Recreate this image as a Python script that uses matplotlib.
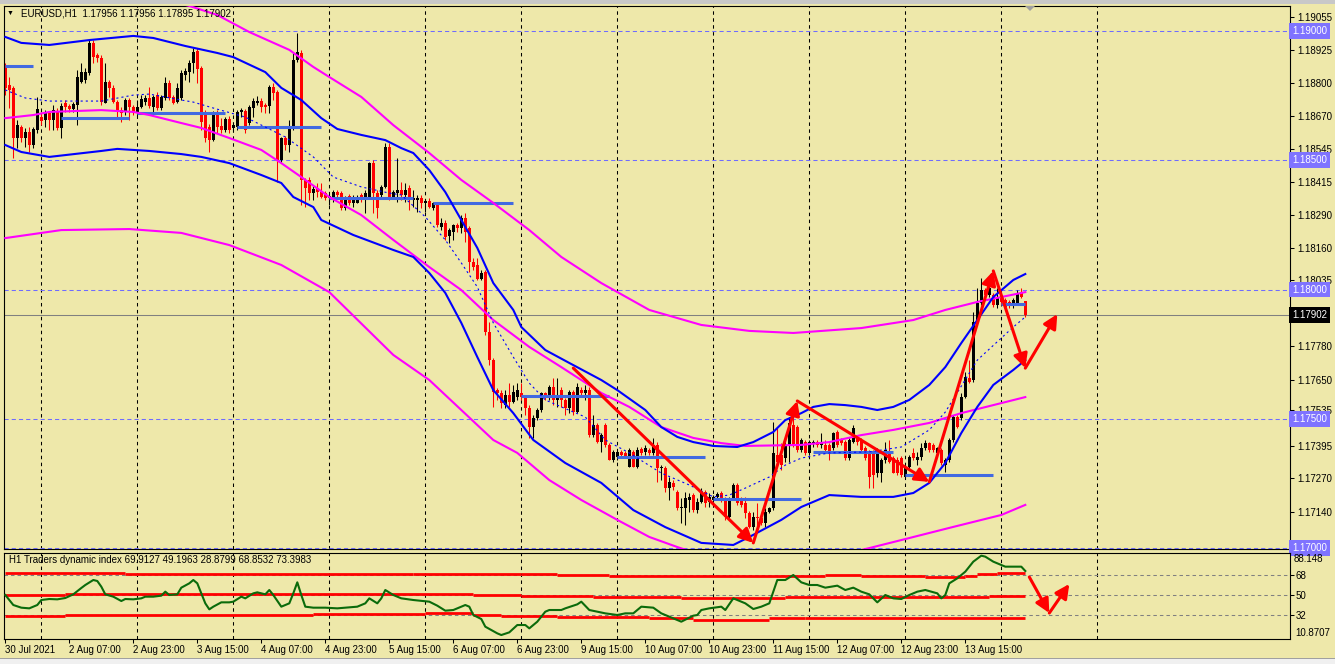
import numpy as np
import matplotlib.pyplot as plt
import matplotlib.transforms as mtransforms
from matplotlib.patches import FancyArrowPatch, Rectangle, Polygon

plt.rcParams['font.family'] = ['Liberation Sans', 'DejaVu Sans']
plt.rcParams['lines.scale_dashes'] = False

# ---- EURUSD H1 candles, 30 Jul 15:00 -> 13 Aug 16:00 (bar index 0..255) ----
opens = [1.18857, 1.18791, 1.18780, 1.18586, 1.18629, 1.18586, 1.18609, 1.18559, 1.18617, 1.18667,
         1.18656, 1.18683, 1.18656, 1.18691, 1.18625, 1.18722, 1.18710, 1.18698, 1.18714, 1.18803,
         1.18810, 1.18838, 1.18954, 1.18907, 1.18896, 1.18722, 1.18803, 1.18780, 1.18725, 1.18694,
         1.18687, 1.18733, 1.18706, 1.18683, 1.18706, 1.18725, 1.18741, 1.18706, 1.18752, 1.18702,
         1.18741, 1.18799, 1.18745, 1.18725, 1.18741, 1.18830, 1.18841, 1.18876, 1.18923, 1.18857,
         1.18687, 1.18629, 1.18578, 1.18683, 1.18633, 1.18617, 1.18660, 1.18625, 1.18629, 1.18687,
         1.18691, 1.18644, 1.18702, 1.18722, 1.18729, 1.18714, 1.18710, 1.18783, 1.18764, 1.18501,
         1.18586, 1.18559, 1.18629, 1.18888, 1.18915, 1.18424, 1.18424, 1.18373, 1.18393, 1.18377,
         1.18373, 1.18354, 1.18358, 1.18377, 1.18373, 1.18315, 1.18362, 1.18335, 1.18335, 1.18366,
         1.18358, 1.18358, 1.18489, 1.18373, 1.18366, 1.18397, 1.18551, 1.18358, 1.18373, 1.18385,
         1.18366, 1.18393, 1.18346, 1.18346, 1.18354, 1.18335, 1.18342, 1.18315, 1.18331, 1.18242,
         1.18257, 1.18207, 1.18223, 1.18250, 1.18238, 1.18277, 1.18238, 1.18106, 1.18095, 1.18041,
         1.18068, 1.17836, 1.17727, 1.17611, 1.17600, 1.17553, 1.17592, 1.17565, 1.17584, 1.17600,
         1.17580, 1.17542, 1.17468, 1.17503, 1.17534, 1.17600, 1.17584, 1.17623, 1.17573, 1.17611,
         1.17573, 1.17542, 1.17604, 1.17526, 1.17611, 1.17600, 1.17611, 1.17437, 1.17476, 1.17410,
         1.17476, 1.17399, 1.17341, 1.17352, 1.17372, 1.17368, 1.17314, 1.17372, 1.17314, 1.17383,
         1.17372, 1.17379, 1.17368, 1.17399, 1.17310, 1.17310, 1.17232, 1.17252, 1.17217, 1.17155,
         1.17155, 1.17186, 1.17205, 1.17147, 1.17178, 1.17217, 1.17178, 1.17186, 1.17198, 1.17213,
         1.17190, 1.17120, 1.17190, 1.17244, 1.17182, 1.17174, 1.17136, 1.17081, 1.17120, 1.17116,
         1.17097, 1.17139, 1.17155, 1.17360, 1.17360, 1.17348, 1.17399, 1.17476, 1.17468, 1.17379,
         1.17410, 1.17368, 1.17406, 1.17410, 1.17399, 1.17399, 1.17399, 1.17387, 1.17449, 1.17418,
         1.17410, 1.17348, 1.17410, 1.17430, 1.17418, 1.17387, 1.17372, 1.17368, 1.17290, 1.17290,
         1.17341, 1.17372, 1.17348, 1.17341, 1.17348, 1.17275, 1.17314, 1.17368, 1.17341, 1.17352,
         1.17387, 1.17406, 1.17399, 1.17368, 1.17379, 1.17321, 1.17341, 1.17418, 1.17507, 1.17503,
         1.17584, 1.17658, 1.17650, 1.17874, 1.17948, 1.17998, 1.17979, 1.17979, 1.17940, 1.17971,
         1.17960, 1.17952, 1.17948, 1.17948, 1.17990, 1.17956]
highs = [1.18876, 1.18822, 1.18787, 1.18656, 1.18636, 1.18625, 1.18629, 1.18629, 1.18745, 1.18687,
         1.18694, 1.18691, 1.18714, 1.18702, 1.18722, 1.18733, 1.18718, 1.18725, 1.18849, 1.18876,
         1.18857, 1.18965, 1.18965, 1.18915, 1.18907, 1.18876, 1.18810, 1.18791, 1.18733, 1.18706,
         1.18741, 1.18741, 1.18714, 1.18733, 1.18752, 1.18752, 1.18783, 1.18752, 1.18764, 1.18752,
         1.18822, 1.18810, 1.18752, 1.18799, 1.18849, 1.18857, 1.18888, 1.18934, 1.18934, 1.18865,
         1.18694, 1.18640, 1.18691, 1.18694, 1.18663, 1.18667, 1.18671, 1.18648, 1.18694, 1.18702,
         1.18698, 1.18714, 1.18741, 1.18749, 1.18741, 1.18722, 1.18791, 1.18799, 1.18772, 1.18590,
         1.18594, 1.18656, 1.18915, 1.18992, 1.18927, 1.18431, 1.18435, 1.18400, 1.18412, 1.18412,
         1.18381, 1.18370, 1.18385, 1.18385, 1.18381, 1.18362, 1.18370, 1.18366, 1.18366, 1.18373,
         1.18385, 1.18493, 1.18501, 1.18385, 1.18404, 1.18567, 1.18567, 1.18385, 1.18509, 1.18416,
         1.18412, 1.18404, 1.18385, 1.18366, 1.18366, 1.18350, 1.18354, 1.18339, 1.18339, 1.18277,
         1.18269, 1.18238, 1.18253, 1.18257, 1.18288, 1.18296, 1.18246, 1.18122, 1.18122, 1.18076,
         1.18076, 1.17874, 1.17735, 1.17619, 1.17611, 1.17611, 1.17638, 1.17631, 1.17638, 1.17638,
         1.17592, 1.17553, 1.17515, 1.17542, 1.17604, 1.17604, 1.17631, 1.17658, 1.17658, 1.17623,
         1.17580, 1.17611, 1.17611, 1.17638, 1.17623, 1.17631, 1.17623, 1.17515, 1.17484, 1.17445,
         1.17484, 1.17406, 1.17379, 1.17379, 1.17379, 1.17375, 1.17387, 1.17379, 1.17391, 1.17391,
         1.17399, 1.17387, 1.17426, 1.17410, 1.17321, 1.17317, 1.17275, 1.17263, 1.17225, 1.17194,
         1.17217, 1.17213, 1.17213, 1.17194, 1.17232, 1.17225, 1.17213, 1.17205, 1.17217, 1.17221,
         1.17198, 1.17198, 1.17252, 1.17252, 1.17198, 1.17198, 1.17143, 1.17139, 1.17174, 1.17124,
         1.17155, 1.17159, 1.17488, 1.17464, 1.17406, 1.17410, 1.17507, 1.17534, 1.17476, 1.17426,
         1.17418, 1.17418, 1.17418, 1.17418, 1.17445, 1.17418, 1.17406, 1.17449, 1.17457, 1.17426,
         1.17418, 1.17426, 1.17476, 1.17437, 1.17426, 1.17395, 1.17379, 1.17379, 1.17387, 1.17348,
         1.17410, 1.17418, 1.17356, 1.17352, 1.17356, 1.17321, 1.17360, 1.17387, 1.17372, 1.17406,
         1.17418, 1.17410, 1.17406, 1.17391, 1.17387, 1.17348, 1.17426, 1.17515, 1.17515, 1.17600,
         1.17681, 1.17727, 1.17913, 1.18006, 1.18045, 1.18006, 1.18045, 1.17987, 1.18006, 1.17990,
         1.17967, 1.17960, 1.17967, 1.17998, 1.18006, 1.17956]
lows = [1.18752, 1.18702, 1.18509, 1.18547, 1.18571, 1.18551, 1.18532, 1.18547, 1.18605, 1.18636,
        1.18629, 1.18617, 1.18617, 1.18617, 1.18586, 1.18687, 1.18687, 1.18687, 1.18636, 1.18799,
        1.18799, 1.18830, 1.18876, 1.18880, 1.18714, 1.18722, 1.18745, 1.18722, 1.18663, 1.18648,
        1.18675, 1.18656, 1.18675, 1.18671, 1.18702, 1.18714, 1.18702, 1.18675, 1.18694, 1.18694,
        1.18733, 1.18733, 1.18718, 1.18722, 1.18733, 1.18810, 1.18803, 1.18838, 1.18799, 1.18617,
        1.18571, 1.18532, 1.18575, 1.18605, 1.18605, 1.18609, 1.18605, 1.18613, 1.18617, 1.18667,
        1.18605, 1.18636, 1.18667, 1.18714, 1.18687, 1.18683, 1.18683, 1.18733, 1.18416, 1.18489,
        1.18540, 1.18532, 1.18617, 1.18880, 1.18327, 1.18319, 1.18346, 1.18346, 1.18358, 1.18354,
        1.18346, 1.18327, 1.18339, 1.18358, 1.18308, 1.18308, 1.18327, 1.18319, 1.18335, 1.18339,
        1.18296, 1.18354, 1.18296, 1.18277, 1.18358, 1.18393, 1.18346, 1.18358, 1.18339, 1.18346,
        1.18339, 1.18308, 1.18319, 1.18300, 1.18315, 1.18300, 1.18315, 1.18308, 1.18242, 1.18230,
        1.18192, 1.18180, 1.18192, 1.18223, 1.18219, 1.18184, 1.18068, 1.18076, 1.18037, 1.18037,
        1.17824, 1.17708, 1.17546, 1.17573, 1.17542, 1.17542, 1.17546, 1.17561, 1.17573, 1.17573,
        1.17515, 1.17426, 1.17426, 1.17495, 1.17526, 1.17573, 1.17573, 1.17553, 1.17546, 1.17546,
        1.17515, 1.17522, 1.17515, 1.17522, 1.17584, 1.17573, 1.17430, 1.17430, 1.17406, 1.17372,
        1.17391, 1.17341, 1.17333, 1.17341, 1.17348, 1.17348, 1.17314, 1.17314, 1.17310, 1.17360,
        1.17360, 1.17360, 1.17360, 1.17256, 1.17263, 1.17217, 1.17186, 1.17225, 1.17147, 1.17097,
        1.17089, 1.17139, 1.17139, 1.17136, 1.17174, 1.17159, 1.17159, 1.17174, 1.17194, 1.17178,
        1.17109, 1.17116, 1.17186, 1.17167, 1.17159, 1.17116, 1.17078, 1.17070, 1.17078, 1.17089,
        1.17081, 1.17136, 1.17147, 1.17329, 1.17302, 1.17333, 1.17333, 1.17391, 1.17372, 1.17372,
        1.17360, 1.17360, 1.17391, 1.17391, 1.17387, 1.17368, 1.17341, 1.17379, 1.17391, 1.17399,
        1.17341, 1.17341, 1.17406, 1.17399, 1.17372, 1.17341, 1.17232, 1.17232, 1.17275, 1.17256,
        1.17329, 1.17329, 1.17290, 1.17283, 1.17275, 1.17271, 1.17302, 1.17341, 1.17321, 1.17341,
        1.17379, 1.17372, 1.17372, 1.17352, 1.17321, 1.17294, 1.17333, 1.17410, 1.17464, 1.17495,
        1.17580, 1.17638, 1.17642, 1.17871, 1.17940, 1.17971, 1.17971, 1.17932, 1.17929, 1.17940,
        1.17929, 1.17929, 1.17929, 1.17940, 1.17967, 1.17895]
closes = [1.18780, 1.18772, 1.18586, 1.18636, 1.18586, 1.18609, 1.18559, 1.18621, 1.18698, 1.18652,
          1.18683, 1.18656, 1.18694, 1.18625, 1.18710, 1.18706, 1.18698, 1.18718, 1.18822, 1.18841,
          1.18841, 1.18954, 1.18899, 1.18896, 1.18725, 1.18803, 1.18780, 1.18725, 1.18687, 1.18683,
          1.18733, 1.18706, 1.18683, 1.18706, 1.18737, 1.18741, 1.18710, 1.18745, 1.18702, 1.18745,
          1.18799, 1.18741, 1.18722, 1.18780, 1.18838, 1.18845, 1.18876, 1.18919, 1.18853, 1.18648,
          1.18586, 1.18578, 1.18683, 1.18629, 1.18617, 1.18660, 1.18617, 1.18636, 1.18687, 1.18694,
          1.18617, 1.18706, 1.18729, 1.18729, 1.18706, 1.18706, 1.18783, 1.18760, 1.18501, 1.18586,
          1.18559, 1.18629, 1.18888, 1.18919, 1.18424, 1.18393, 1.18373, 1.18389, 1.18377, 1.18358,
          1.18354, 1.18362, 1.18377, 1.18366, 1.18315, 1.18354, 1.18335, 1.18358, 1.18358, 1.18346,
          1.18373, 1.18489, 1.18373, 1.18315, 1.18397, 1.18551, 1.18358, 1.18377, 1.18385, 1.18366,
          1.18385, 1.18346, 1.18354, 1.18354, 1.18335, 1.18342, 1.18319, 1.18335, 1.18250, 1.18257,
          1.18203, 1.18230, 1.18250, 1.18238, 1.18277, 1.18223, 1.18106, 1.18087, 1.18041, 1.18064,
          1.17836, 1.17727, 1.17604, 1.17600, 1.17561, 1.17592, 1.17565, 1.17604, 1.17611, 1.17584,
          1.17542, 1.17468, 1.17503, 1.17534, 1.17600, 1.17584, 1.17623, 1.17573, 1.17584, 1.17573,
          1.17542, 1.17604, 1.17526, 1.17623, 1.17600, 1.17611, 1.17437, 1.17476, 1.17410, 1.17437,
          1.17399, 1.17341, 1.17372, 1.17372, 1.17360, 1.17352, 1.17379, 1.17314, 1.17379, 1.17368,
          1.17387, 1.17368, 1.17399, 1.17310, 1.17314, 1.17232, 1.17256, 1.17236, 1.17155, 1.17159,
          1.17194, 1.17198, 1.17147, 1.17178, 1.17217, 1.17174, 1.17198, 1.17198, 1.17209, 1.17186,
          1.17120, 1.17190, 1.17244, 1.17174, 1.17167, 1.17136, 1.17081, 1.17120, 1.17116, 1.17097,
          1.17139, 1.17155, 1.17368, 1.17333, 1.17321, 1.17399, 1.17484, 1.17399, 1.17379, 1.17418,
          1.17368, 1.17410, 1.17410, 1.17399, 1.17410, 1.17379, 1.17372, 1.17445, 1.17399, 1.17406,
          1.17348, 1.17418, 1.17464, 1.17410, 1.17379, 1.17348, 1.17275, 1.17283, 1.17368, 1.17341,
          1.17379, 1.17333, 1.17290, 1.17290, 1.17283, 1.17314, 1.17352, 1.17348, 1.17352, 1.17387,
          1.17406, 1.17379, 1.17379, 1.17387, 1.17329, 1.17341, 1.17418, 1.17507, 1.17468, 1.17584,
          1.17662, 1.17642, 1.17874, 1.17948, 1.17998, 1.17979, 1.18006, 1.17940, 1.17971, 1.17952,
          1.17932, 1.17940, 1.17960, 1.17987, 1.17971, 1.17902]

# ---- band indicators, read at bar index ----
blue_up_i = [0, 4, 11, 21, 32, 37, 45, 53, 57, 65, 69, 74, 79, 83, 89, 95, 99, 102, 106, 110,
             114, 118, 122, 127, 129, 135, 141, 149, 153, 160, 164, 168, 172, 177, 183, 187, 192, 195, 199, 202,
             206, 210, 214, 218, 222, 226, 231, 235, 239, 243, 247, 252, 255]
blue_up = [1.18977, 1.18954, 1.18946, 1.18965, 1.18981, 1.18973, 1.18942, 1.18915, 1.18899, 1.18841,
           1.18780, 1.18733, 1.18663, 1.18621, 1.18598, 1.18578, 1.18547, 1.18528, 1.18462, 1.18377,
           1.18269, 1.18161, 1.18025, 1.17921, 1.17855, 1.17766, 1.17716, 1.17650, 1.17611, 1.17534,
           1.17468, 1.17430, 1.17410, 1.17395, 1.17391, 1.17410, 1.17449, 1.17495, 1.17522, 1.17546,
           1.17557, 1.17553, 1.17546, 1.17534, 1.17546, 1.17573, 1.17631, 1.17700, 1.17793, 1.17882,
           1.17971, 1.18037, 1.18060]
blue_lo_i = [0, 4, 11, 24, 28, 36, 44, 49, 56, 64, 69, 72, 77, 79, 87, 97, 102, 106, 110, 114,
             118, 122, 127, 132, 140, 149, 157, 165, 174, 182, 186, 194, 199, 206, 214, 222, 227, 231, 235, 239,
             243, 247, 252, 255]
blue_lo = [1.18559, 1.18532, 1.18513, 1.18536, 1.18544, 1.18536, 1.18524, 1.18513, 1.18489, 1.18443,
           1.18412, 1.18358, 1.18319, 1.18269, 1.18211, 1.18153, 1.18126, 1.18064, 1.17987, 1.17871,
           1.17739, 1.17611, 1.17522, 1.17418, 1.17329, 1.17252, 1.17147, 1.17081, 1.17020, 1.17012,
           1.17043, 1.17109, 1.17159, 1.17205, 1.17198, 1.17198, 1.17213, 1.17252, 1.17329, 1.17445,
           1.17546, 1.17631, 1.17689, 1.17727]
blue_mid_i = [0, 5, 11, 24, 32, 36, 44, 47, 52, 60, 70, 77, 82, 89, 96, 99, 105, 110, 114, 118,
              122, 127, 131, 135, 139, 145, 150, 156, 164, 171, 177, 181, 185, 191, 195, 199, 206, 216, 224, 231,
              235, 243, 252, 255]
blue_mid = [1.18772, 1.18741, 1.18729, 1.18729, 1.18752, 1.18756, 1.18733, 1.18725, 1.18702, 1.18667,
            1.18590, 1.18513, 1.18435, 1.18397, 1.18373, 1.18366, 1.18281, 1.18192, 1.18103, 1.18010,
            1.17871, 1.17739, 1.17638, 1.17573, 1.17546, 1.17507, 1.17418, 1.17368, 1.17290, 1.17244,
            1.17198, 1.17205, 1.17232, 1.17275, 1.17321, 1.17348, 1.17368, 1.17372, 1.17391, 1.17457,
            1.17526, 1.17727, 1.17855, 1.17894]
mag_up_i = [40, 46, 53, 61, 71, 77, 81, 89, 97, 106, 114, 122, 131, 139, 149, 161, 174, 186, 197, 214,
            227, 235, 243, 255]
mag_up = [1.19120, 1.19097, 1.19062, 1.18996, 1.18927, 1.18861, 1.18822, 1.18745, 1.18636, 1.18528,
          1.18424, 1.18335, 1.18230, 1.18126, 1.18025, 1.17921, 1.17863, 1.17840, 1.17832, 1.17851,
          1.17882, 1.17921, 1.17952, 1.17990]
mag_mid_i = [0, 7, 11, 24, 32, 36, 44, 49, 56, 64, 69, 74, 81, 89, 97, 106, 114, 122, 131, 139,
             149, 156, 164, 172, 179, 185, 199, 206, 214, 222, 231, 239, 247, 255]
mag_mid = [1.18663, 1.18675, 1.18687, 1.18694, 1.18687, 1.18675, 1.18644, 1.18625, 1.18586, 1.18540,
           1.18489, 1.18435, 1.18358, 1.18288, 1.18192, 1.18087, 1.17998, 1.17882, 1.17778, 1.17700,
           1.17600, 1.17546, 1.17468, 1.17426, 1.17406, 1.17395, 1.17399, 1.17410, 1.17437, 1.17457,
           1.17484, 1.17522, 1.17553, 1.17584]
mag_lo_i = [0, 14, 31, 44, 56, 69, 81, 97, 106, 114, 122, 128, 136, 144, 153, 161, 168, 174, 194, 211,
            216, 224, 236, 249, 255]
mag_lo = [1.18199, 1.18230, 1.18234, 1.18219, 1.18172, 1.18095, 1.17990, 1.17747, 1.17650, 1.17534,
          1.17418, 1.17368, 1.17263, 1.17186, 1.17109, 1.17043, 1.17004, 1.16973, 1.16954, 1.16981,
          1.17000, 1.17031, 1.17078, 1.17128, 1.17167]

# daily levels (start bar, end bar, price)
day_lvl_start = [0, 14, 33, 58, 81, 107, 129, 153, 177, 202, 225, 249]
day_lvl_end = [7, 31, 55, 79, 102, 127, 151, 175, 199, 222, 247, 255]
day_lvl = [1.18865, 1.18663, 1.18683, 1.18629, 1.18354, 1.18335, 1.17588, 1.17352, 1.17190, 1.17372,
           1.17283, 1.17944]

round_levels = [1.19000, 1.18500, 1.18000, 1.17500, 1.17000]
price_ticks = [1.19055, 1.18925, 1.18800, 1.18670, 1.18545, 1.18415, 1.18290, 1.18160, 1.18035,
               1.17780, 1.17650, 1.17535, 1.17395, 1.17270, 1.17140]
last_price = 1.17902

# hand drawn arrows (bar index, price)
arrow_bars = [142, 187, 198, 231, 247, 255, 263]
arrow_prices = [1.17696, 1.17020, 1.17569, 1.17256, 1.18072, 1.17696, 1.17905]

# ---- Traders Dynamic Index ----
tdi_i = [0, 2, 4, 6, 8, 9, 11, 13, 15, 17, 19, 20, 22, 23, 24, 25, 27, 29, 30, 32,
         34, 35, 37, 39, 40, 41, 43, 44, 46, 47, 48, 49, 50, 51, 52, 54, 56, 57, 59, 60,
         62, 63, 65, 66, 67, 69, 71, 72, 73, 74, 75, 77, 80, 83, 88, 90, 91, 93, 94, 95,
         97, 99, 102, 106, 108, 110, 112, 115, 116, 117, 119, 120, 123, 124, 126, 128, 130, 131, 133, 135,
         136, 139, 140, 143, 144, 146, 148, 150, 153, 155, 157, 159, 162, 164, 166, 169, 172, 173, 174, 176,
         179, 180, 182, 185, 187, 189, 191, 192, 193, 195, 197, 199, 201, 203, 205, 208, 210, 212, 214, 216,
         218, 220, 222, 224, 226, 228, 230, 233, 234, 235, 236, 238, 240, 242, 244, 245, 247, 250, 252, 254,
         255]
tdi_line = [50.0, 41.0, 38.6, 38.0, 41.0, 45.5, 46.4, 46.1, 47.3, 50.6, 56.3, 59.0, 63.5, 62.6, 57.5, 50.6,
            48.5, 44.6, 46.4, 46.1, 47.0, 48.5, 48.5, 49.4, 53.0, 50.0, 50.6, 56.6, 60.5, 63.5, 60.5, 51.5,
            42.5, 37.1, 39.5, 43.4, 43.4, 44.0, 48.5, 47.0, 51.5, 52.4, 50.6, 54.5, 50.0, 39.5, 42.5, 51.5,
            61.4, 50.0, 39.5, 38.6, 38.6, 38.0, 39.5, 42.5, 47.0, 42.5, 47.0, 54.5, 50.0, 47.0, 45.5, 44.0,
            40.4, 35.9, 36.5, 41.0, 39.5, 32.0, 28.4, 21.5, 15.5, 14.0, 16.4, 23.0, 23.0, 20.0, 26.0, 35.0,
            36.5, 36.5, 38.0, 41.6, 44.0, 36.5, 35.0, 33.5, 32.0, 33.5, 33.5, 39.5, 38.6, 33.5, 30.5, 26.0,
            31.4, 32.0, 36.5, 38.0, 39.5, 36.5, 47.0, 42.5, 37.4, 39.5, 42.5, 53.0, 63.5, 63.5, 68.0, 61.4,
            59.0, 59.0, 56.6, 58.4, 54.5, 56.6, 53.0, 50.6, 43.4, 50.0, 47.0, 46.4, 50.0, 53.0, 54.5, 51.5,
            47.0, 50.0, 60.5, 65.0, 71.0, 80.0, 85.4, 84.5, 80.0, 75.5, 75.5, 75.5, 71.6]
# volatility bands are flat steps: edges in bar index, one value per step
band_up_edges = [0, 30, 102, 129, 138, 151, 205, 214, 230, 240, 243, 248, 255]
band_up = [69.5, 68.9, 68.6, 68.9, 68.0, 67.4, 68.0, 67.4, 66.5, 67.4, 68.6, 69.9]
band_mid_edges = [0, 15, 117, 129, 147, 169, 195, 246, 255]
band_mid = [50.0, 50.6, 50.0, 49.4, 48.5, 47.6, 48.5, 49.2]
band_lo_edges = [0, 15, 77, 105, 117, 124, 138, 161, 172, 191, 200, 255]
band_lo = [31.4, 32.0, 32.9, 33.5, 32.0, 31.4, 30.5, 29.0, 27.8, 29.0, 28.9]
tdi_levels = [68, 50, 32]
tdi_arrow_bars = [256, 261, 266]
tdi_arrow_vals = [66.2, 33.8, 59.9]

day_starts = [9, 33, 57, 81, 105, 129, 153, 177, 201, 225, 249, 273]
time_idx = [0, 16, 32, 48, 64, 80, 96, 112, 128, 144, 160, 176, 192, 208, 224, 240]
time_labels = ['30 Jul 2021', '2 Aug 07:00', '2 Aug 23:00', '3 Aug 15:00', '4 Aug 07:00',
               '4 Aug 23:00', '5 Aug 15:00', '6 Aug 07:00', '6 Aug 23:00', '9 Aug 15:00',
               '10 Aug 07:00', '10 Aug 23:00', '11 Aug 15:00', '12 Aug 07:00', '12 Aug 23:00',
               '13 Aug 15:00']

BG = '#EEE8AA'
W, H = 1335, 664


def px_box(x0, y0, x1, y1):
    return [x0 / W, 1 - y1 / H, (x1 - x0) / W, (y1 - y0) / H]


fig = plt.figure(figsize=(13.35, 6.64), dpi=100)
fig.patch.set_facecolor(BG)
ax = fig.add_axes(px_box(4, 6, 1290, 549))
ax2 = fig.add_axes(px_box(4, 552.6, 1290, 638.5), sharex=ax)

# window frame bits (top bar, bottom tab strip)
fig.add_artist(Rectangle((0, 1 - 4 / H), 1, 4 / H, transform=fig.transFigure, fc='#c8c8c8', ec='none'))
fig.add_artist(Rectangle((0, 0), 1, 5 / H, transform=fig.transFigure, fc='#f0f0f0', ec='none'))
fig.add_artist(Rectangle((0, 5 / H), 1, 1 / H, transform=fig.transFigure, fc='#a0a0a0', ec='none'))
# chart shift marker
fig.add_artist(Polygon([(1025 / W, 1 - 6 / H), (1035 / W, 1 - 6 / H), (1030 / W, 1 - 11 / H)],
                       closed=True, transform=fig.transFigure, fc='#a0a0a0', ec='none'))

for a in (ax, ax2):
    a.set_facecolor(BG)
    for s in a.spines.values():
        s.set_linewidth(0.8)
        s.set_color('black')
    for d in day_starts:
        a.axvline(d, color='black', lw=0.75, linestyle=(0, (2.5, 2.5)), zorder=1)

ax.set_xlim(-0.325, 321.175)
ax.set_ylim(1.169964, 1.190967)
ax2.set_ylim(10.8707, 88.148)

# round number levels + last price
for lv in round_levels:
    ax.axhline(lv, color='#6f6cff', lw=0.75, linestyle=(0, (3, 2.2)), zorder=1)
ax.axhline(last_price, color='#808080', lw=0.75, zorder=1)

# candles
x = np.arange(len(closes))
o = np.array(opens); h = np.array(highs); l = np.array(lows); c = np.array(closes)
bull = c > o
body_lo = np.minimum(o, c)
body_h = np.maximum(np.abs(c - o), 0.00003)
for m, col in ((bull, 'black'), (~bull, '#ff0000')):
    ax.vlines(x[m], l[m], h[m], color=col, lw=0.75, zorder=2)
    ax.bar(x[m], body_h[m], bottom=body_lo[m], width=0.72, color=col, linewidth=0, zorder=2)

# indicators on top of price
for s, e, v in zip(day_lvl_start, day_lvl_end, day_lvl):
    ax.plot([s, e], [v, v], color='#4169e1', lw=2.2, solid_capstyle='butt', zorder=3)
ax.plot(mag_up_i, mag_up, color='#ff00ff', lw=1.5, zorder=3)
ax.plot(mag_mid_i, mag_mid, color='#ff00ff', lw=1.5, zorder=3)
ax.plot(mag_lo_i, mag_lo, color='#ff00ff', lw=1.5, zorder=3)
ax.plot(blue_up_i, blue_up, color='#0000ff', lw=1.5, zorder=3)
ax.plot(blue_lo_i, blue_lo, color='#0000ff', lw=1.5, zorder=3)
ax.plot(blue_mid_i, blue_mid, color='#0000ff', lw=0.8, linestyle=(0, (1.5, 2.2)), zorder=3)

for k in range(len(arrow_bars) - 1):
    ar = FancyArrowPatch((arrow_bars[k], arrow_prices[k]), (arrow_bars[k + 1], arrow_prices[k + 1]),
                         arrowstyle='-|>,head_length=0.6,head_width=0.3', mutation_scale=14,
                         color='#ff0000', lw=2.2, shrinkA=0, shrinkB=0, zorder=5)
    ax.add_patch(ar)

# right price scale
ax.yaxis.tick_right()
ax.set_yticks(price_ticks)
ax.set_yticklabels(['%.5f' % p for p in price_ticks])
ax.tick_params(axis='y', direction='out', length=3, width=0.75, pad=2, labelsize=7)
ax.tick_params(axis='x', bottom=False, labelbottom=False)
trans = mtransforms.blended_transform_factory(ax.transAxes, ax.transData)
for lv in round_levels:
    ax.text(1.0016, lv, '%.5f' % lv, transform=trans, ha='left', va='center', fontsize=7,
            color='white', zorder=10, clip_on=False,
            bbox=dict(boxstyle='square,pad=0.3', fc='#7f73ff', ec='none'))
ax.text(1.0016, last_price, '%.5f' % last_price, transform=trans, ha='left', va='center', fontsize=7,
        color='white', zorder=10, clip_on=False,
        bbox=dict(boxstyle='square,pad=0.3', fc='black', ec='none'))

# TDI panel
for lv in tdi_levels:
    ax2.axhline(lv, color='#808080', lw=0.75, linestyle=(0, (2.5, 2.2)), zorder=1)
for edges, vals in ((band_up_edges, band_up), (band_mid_edges, band_mid), (band_lo_edges, band_lo)):
    ax2.hlines(vals, edges[:-1], edges[1:], color='#ff0000', lw=2.0, zorder=2)
ax2.plot(tdi_i, tdi_line, color='#0b6b0b', lw=1.5, zorder=3)
for k in range(len(tdi_arrow_bars) - 1):
    ar = FancyArrowPatch((tdi_arrow_bars[k], tdi_arrow_vals[k]), (tdi_arrow_bars[k + 1], tdi_arrow_vals[k + 1]),
                         arrowstyle='-|>,head_length=0.6,head_width=0.3', mutation_scale=14,
                         color='#ff0000', lw=2.2, shrinkA=0, shrinkB=0, zorder=5)
    ax2.add_patch(ar)

ax2.yaxis.tick_right()
ax2.set_yticks(tdi_levels)
ax2.set_yticklabels([str(v) for v in tdi_levels])
ax2.tick_params(axis='y', direction='out', length=3, width=0.75, pad=1, labelsize=7)
ax2.set_xticks(time_idx)
ax2.set_xticklabels(time_labels, ha='left')
ax2.tick_params(axis='x', direction='out', length=3, width=0.75, pad=1.5, labelsize=7)
fig.text(1294 / W, 1 - 559 / H, '88.148', fontsize=7, va='center')
fig.text(1295 / W, 1 - 633 / H, '10.8707', fontsize=7, va='center')

# header texts
fig.text(7 / W, 1 - 13 / H, '\u25bc', fontsize=5, va='center')
fig.text(21 / W, 1 - 13 / H, 'EURUSD,H1  1.17956 1.17956 1.17895 1.17902', fontsize=7, va='center')
fig.text(9 / W, 1 - 560 / H, 'H1 Traders dynamic index 69.9127 49.1963 28.8799 68.8532 73.3983',
         fontsize=7, va='center')

fig.savefig('out.png', dpi=100, facecolor=BG)
